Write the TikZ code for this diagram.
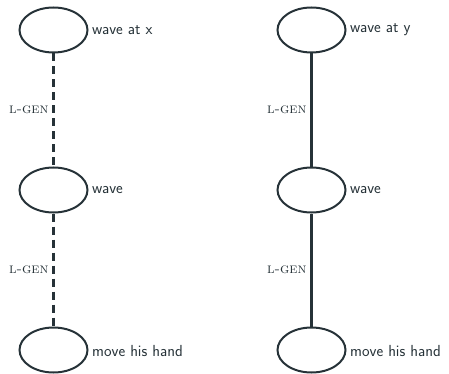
\documentclass[tikz,border=0pt]{standalone}
\usetikzlibrary{shapes.geometric}
\definecolor{ink}{RGB}{38,50,56}
\begin{document}
\begin{tikzpicture}[x=1pt,y=-1pt,
  state/.style={ellipse,draw=ink,line width=2pt,minimum width=68pt,minimum height=45pt,inner sep=0pt},
  tag/.style={anchor=west,text=ink,font=\sffamily\fontsize{16}{18}\selectfont,inner sep=0pt},
  rel/.style={draw=ink,line width=2.2pt},
  reldash/.style={rel,dash pattern=on 8pt off 5pt},
  gen/.style={anchor=east,text=ink,font=\rmfamily\fontsize{14.5}{16}\selectfont,inner sep=0pt}]
\useasboundingbox (0,0) rectangle (449,374);
\node[state] (a1) at (53.5,30) {};
\node[state] (a2) at (53.5,190) {};
\node[state] (a3) at (53.5,350) {};
\node[state] (b1) at (311.5,30) {};
\node[state] (b2) at (311.5,190) {};
\node[state] (b3) at (311.5,350) {};
\node[tag] (ta1) at (92,30) {wave at x};
\node[tag] (ta2) at (92,190) {wave};
\node[tag] (ta3) at (92,351) {move his hand};
\node[tag] (tb1) at (350,30) {wave at y};
\node[tag] (tb2) at (350,190) {wave};
\node[tag] (tb3) at (350,351) {move his hand};
\draw[reldash] (a1) -- (a2) node[gen,pos=0.5,xshift=-4pt] (la1) {\textsc{l-gen}};
\draw[reldash] (a2) -- (a3) node[gen,pos=0.5,xshift=-4pt] (la2) {\textsc{l-gen}};
\draw[rel] (b1) -- (b2) node[gen,pos=0.5,xshift=-4pt] (lb1) {\textsc{l-gen}};
\draw[rel] (b2) -- (b3) node[gen,pos=0.5,xshift=-4pt] (lb2) {\textsc{l-gen}};
\end{tikzpicture}
\end{document}
